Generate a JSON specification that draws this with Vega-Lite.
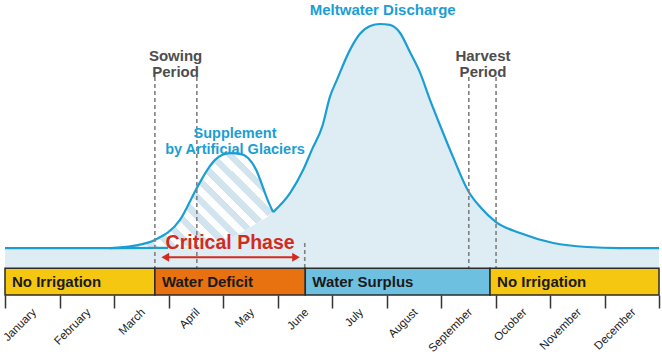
{
  "$schema": "https://vega.github.io/schema/vega-lite/v6.json",
  "width": 654,
  "height": 295,
  "autosize": {"type": "none"},
  "padding": {"left": 5, "top": 0, "right": 3, "bottom": 60},
  "background": "white",
  "config": {"view": {"stroke": null}, "font": "Liberation Sans"},
  "datasets": {
    "melt": [
      {"month": 0, "value": 7.5}, {"month": 1, "value": 7.5}, {"month": 2, "value": 7.5},
      {"month": 2.99, "value": 7.55}, {"month": 3.39, "value": 8.3}, {"month": 3.76, "value": 9.8},
      {"month": 4.22, "value": 12.4}, {"month": 4.59, "value": 16.4}, {"month": 4.92, "value": 20.9},
      {"month": 5.23, "value": 28.0}, {"month": 5.47, "value": 36.6}, {"month": 5.63, "value": 44.1},
      {"month": 5.83, "value": 53.4}, {"month": 5.96, "value": 63.8}, {"month": 6.09, "value": 70.2},
      {"month": 6.33, "value": 81.4}, {"month": 6.51, "value": 87.3}, {"month": 6.70, "value": 90.3},
      {"month": 6.88, "value": 91.05}, {"month": 7.06, "value": 90.7}, {"month": 7.25, "value": 87.7},
      {"month": 7.43, "value": 80.6}, {"month": 7.61, "value": 73.2}, {"month": 7.80, "value": 62.7},
      {"month": 7.98, "value": 53.4}, {"month": 8.22, "value": 41.5}, {"month": 8.51, "value": 28.4},
      {"month": 8.72, "value": 22.8}, {"month": 9.01, "value": 17.2}, {"month": 9.45, "value": 13.1},
      {"month": 10.06, "value": 9.4}, {"month": 10.68, "value": 7.9}, {"month": 11.28, "value": 7.5},
      {"month": 12, "value": 7.5}
    ],
    "hump": [
      {"month": 1.93, "value": 7.5, "base": 7.5}, {"month": 2.35, "value": 8.3, "base": 7.5},
      {"month": 2.75, "value": 10.5, "base": 7.5}, {"month": 3.21, "value": 18.0, "base": 8.0},
      {"month": 3.52, "value": 29.9, "base": 8.7}, {"month": 3.71, "value": 36.6, "base": 9.5},
      {"month": 3.85, "value": 40.3, "base": 10.0}, {"month": 3.98, "value": 42.2, "base": 10.6},
      {"month": 4.13, "value": 42.9, "base": 11.6}, {"month": 4.31, "value": 42.6, "base": 13.0},
      {"month": 4.46, "value": 41.1, "base": 14.8}, {"month": 4.61, "value": 36.6, "base": 16.6},
      {"month": 4.73, "value": 30.3, "base": 18.2}, {"month": 4.82, "value": 25.4, "base": 19.5},
      {"month": 4.92, "value": 20.9, "base": 20.9}
    ],
    "phases": [
      {"month": 0, "end": 2.75, "label": "No Irrigation"},
      {"month": 2.75, "end": 5.51, "label": "Water Deficit"},
      {"month": 5.51, "end": 8.9, "label": "Water Surplus"},
      {"month": 8.9, "end": 12, "label": "No Irrigation"}
    ],
    "guides": [
      {"month": 2.75, "value": 71.3}, {"month": 3.52, "value": 71.3},
      {"month": 8.51, "value": 71.3}, {"month": 9.01, "value": 71.3},
      {"month": 5.5, "value": 9.4}
    ]
  },
  "encoding": {
    "x": {
      "field": "month", "type": "quantitative",
      "scale": {"domain": [0, 12], "nice": false, "zero": false},
      "axis": {
        "values": [0, 1, 2, 3, 4, 5, 6, 7, 8, 9, 10, 11, 12],
        "labelExpr": "datum.value < 12 ? ['January','February','March','April','May','June','July','August','September','October','November','December'][datum.value] : ''",
        "labelAngle": -45, "labelAlign": "right", "labelBaseline": "top",
        "labelOffset": 25, "labelPadding": -2,
        "labelFontSize": 11.5, "labelColor": "#1a1a1a", "labelFont": "Liberation Sans",
        "labelOverlap": false, "labelBound": false, "labelFlush": false,
        "tickSize": 13, "tickWidth": 1.5, "tickColor": "#333333",
        "domain": false, "grid": false, "title": null
      }
    }
  },
  "layer": [
    {
      "data": {"name": "melt"},
      "mark": {"type": "area", "interpolate": "monotone", "color": "#deedf4"},
      "encoding": {
        "y": {"field": "value", "type": "quantitative", "scale": {"domain": [-10, 100], "nice": false, "zero": false}, "axis": null},
        "y2": {"datum": 0}
      }
    },
    {
      "data": {"name": "hump"},
      "mark": {
        "type": "area", "interpolate": "monotone",
        "color": {
          "gradient": "linear", "x1": -0.1, "y1": 1.0, "x2": 1.1, "y2": 0.3,
          "stops": [
            {"offset": 0.0, "color": "#d2e5ef"}, {"offset": 0.0357, "color": "#d2e5ef"}, {"offset": 0.0357, "color": "#ffffff"}, {"offset": 0.0714, "color": "#ffffff"},
            {"offset": 0.0714, "color": "#d2e5ef"}, {"offset": 0.1071, "color": "#d2e5ef"}, {"offset": 0.1071, "color": "#ffffff"}, {"offset": 0.1429, "color": "#ffffff"},
            {"offset": 0.1429, "color": "#d2e5ef"}, {"offset": 0.1786, "color": "#d2e5ef"}, {"offset": 0.1786, "color": "#ffffff"}, {"offset": 0.2143, "color": "#ffffff"},
            {"offset": 0.2143, "color": "#d2e5ef"}, {"offset": 0.25, "color": "#d2e5ef"}, {"offset": 0.25, "color": "#ffffff"}, {"offset": 0.2857, "color": "#ffffff"},
            {"offset": 0.2857, "color": "#d2e5ef"}, {"offset": 0.3214, "color": "#d2e5ef"}, {"offset": 0.3214, "color": "#ffffff"}, {"offset": 0.3571, "color": "#ffffff"},
            {"offset": 0.3571, "color": "#d2e5ef"}, {"offset": 0.3929, "color": "#d2e5ef"}, {"offset": 0.3929, "color": "#ffffff"}, {"offset": 0.4286, "color": "#ffffff"},
            {"offset": 0.4286, "color": "#d2e5ef"}, {"offset": 0.4643, "color": "#d2e5ef"}, {"offset": 0.4643, "color": "#ffffff"}, {"offset": 0.5, "color": "#ffffff"},
            {"offset": 0.5, "color": "#d2e5ef"}, {"offset": 0.5357, "color": "#d2e5ef"}, {"offset": 0.5357, "color": "#ffffff"}, {"offset": 0.5714, "color": "#ffffff"},
            {"offset": 0.5714, "color": "#d2e5ef"}, {"offset": 0.6071, "color": "#d2e5ef"}, {"offset": 0.6071, "color": "#ffffff"}, {"offset": 0.6429, "color": "#ffffff"},
            {"offset": 0.6429, "color": "#d2e5ef"}, {"offset": 0.6786, "color": "#d2e5ef"}, {"offset": 0.6786, "color": "#ffffff"}, {"offset": 0.7143, "color": "#ffffff"},
            {"offset": 0.7143, "color": "#d2e5ef"}, {"offset": 0.75, "color": "#d2e5ef"}, {"offset": 0.75, "color": "#ffffff"}, {"offset": 0.7857, "color": "#ffffff"},
            {"offset": 0.7857, "color": "#d2e5ef"}, {"offset": 0.8214, "color": "#d2e5ef"}, {"offset": 0.8214, "color": "#ffffff"}, {"offset": 0.8571, "color": "#ffffff"},
            {"offset": 0.8571, "color": "#d2e5ef"}, {"offset": 0.8929, "color": "#d2e5ef"}, {"offset": 0.8929, "color": "#ffffff"}, {"offset": 0.9286, "color": "#ffffff"},
            {"offset": 0.9286, "color": "#d2e5ef"}, {"offset": 0.9643, "color": "#d2e5ef"}, {"offset": 0.9643, "color": "#ffffff"}, {"offset": 1.0, "color": "#ffffff"}
          ]
        }
      },
      "encoding": {
        "y": {"field": "value", "type": "quantitative"},
        "y2": {"field": "base"}
      }
    },
    {
      "data": {"name": "melt"},
      "transform": [{"filter": "datum.month <= 2.99"}],
      "mark": {"type": "line", "interpolate": "monotone", "color": "#1a9ed4", "strokeWidth": 2.2},
      "encoding": {"y": {"field": "value", "type": "quantitative"}}
    },
    {
      "data": {"name": "melt"},
      "transform": [{"filter": "datum.month >= 4.92"}],
      "mark": {"type": "line", "interpolate": "monotone", "color": "#1a9ed4", "strokeWidth": 2.2},
      "encoding": {"y": {"field": "value", "type": "quantitative"}}
    },
    {
      "data": {"name": "hump"},
      "mark": {"type": "line", "interpolate": "monotone", "color": "#1a9ed4", "strokeWidth": 2.2},
      "encoding": {"y": {"field": "value", "type": "quantitative"}}
    },
    {
      "data": {"name": "guides"},
      "mark": {"type": "rule", "color": "#808080", "strokeWidth": 1.6, "strokeDash": [4, 3]},
      "encoding": {"y": {"field": "value", "type": "quantitative"}, "y2": {"datum": 0}}
    },
    {
      "data": {"name": "phases"},
      "mark": {"type": "rect", "stroke": "#2b2b2b", "strokeWidth": 1.5},
      "encoding": {
        "x2": {"field": "end"},
        "y": {"datum": 0, "type": "quantitative"},
        "y2": {"datum": -10},
        "fill": {
          "field": "label", "type": "nominal",
          "scale": {"domain": ["No Irrigation", "Water Deficit", "Water Surplus"], "range": ["#f5c710", "#e8720f", "#6ec0e0"]},
          "legend": null
        }
      }
    },
    {
      "data": {"name": "phases"},
      "mark": {"type": "text", "align": "left", "baseline": "middle", "dx": 7, "fontSize": 15, "fontWeight": "bold", "color": "#1a1a1a", "font": "Liberation Sans"},
      "encoding": {"y": {"datum": -5, "type": "quantitative"}, "text": {"field": "label"}}
    },
    {
      "data": {"values": [{"month": 2.94, "value": 4.06, "end": 5.34}]},
      "mark": {"type": "rule", "color": "#d42b1f", "strokeWidth": 2},
      "encoding": {"y": {"field": "value", "type": "quantitative"}, "x2": {"field": "end"}}
    },
    {
      "data": {"values": [{"month": 2.94, "value": 4.06, "dir": "left"}, {"month": 5.34, "value": 4.06, "dir": "right"}]},
      "mark": {"type": "point", "filled": true, "color": "#d42b1f", "opacity": 1, "size": 80},
      "encoding": {
        "y": {"field": "value", "type": "quantitative"},
        "shape": {"field": "dir", "type": "nominal", "scale": {"domain": ["left", "right"], "range": ["triangle-left", "triangle-right"]}, "legend": null}
      }
    },
    {
      "data": {"values": [{"month": 4.13, "value": 9.4, "text": "Critical Phase"}]},
      "mark": {"type": "text", "align": "center", "baseline": "middle", "fontSize": 19.5, "fontWeight": "bold", "color": "#d32a1e", "font": "Liberation Sans"},
      "encoding": {"y": {"field": "value", "type": "quantitative"}, "text": {"field": "text"}}
    },
    {
      "data": {"values": [{"month": 3.13, "value": 79.3, "text": "Sowing\nPeriod"}, {"month": 8.77, "value": 79.3, "text": "Harvest\nPeriod"}]},
      "mark": {"type": "text", "align": "center", "baseline": "middle", "lineBreak": "\n", "lineHeight": 16, "fontSize": 15, "fontWeight": "bold", "color": "#4d4d4d", "font": "Liberation Sans"},
      "encoding": {"y": {"field": "value", "type": "quantitative"}, "text": {"field": "text"}}
    },
    {
      "data": {"values": [{"month": 4.22, "value": 49.85, "text": "Supplement\nby Artificial Glaciers"}]},
      "mark": {"type": "text", "align": "center", "baseline": "middle", "lineBreak": "\n", "lineHeight": 16, "fontSize": 14.5, "fontWeight": "bold", "color": "#1a9ed4", "font": "Liberation Sans"},
      "encoding": {"y": {"field": "value", "type": "quantitative"}, "text": {"field": "text"}}
    },
    {
      "data": {"values": [{"month": 6.93, "value": 96.1, "text": "Meltwater Discharge"}]},
      "mark": {"type": "text", "align": "center", "baseline": "middle", "fontSize": 15, "fontWeight": "bold", "color": "#1a9ed4", "font": "Liberation Sans"},
      "encoding": {"y": {"field": "value", "type": "quantitative"}, "text": {"field": "text"}}
    }
  ]
}
